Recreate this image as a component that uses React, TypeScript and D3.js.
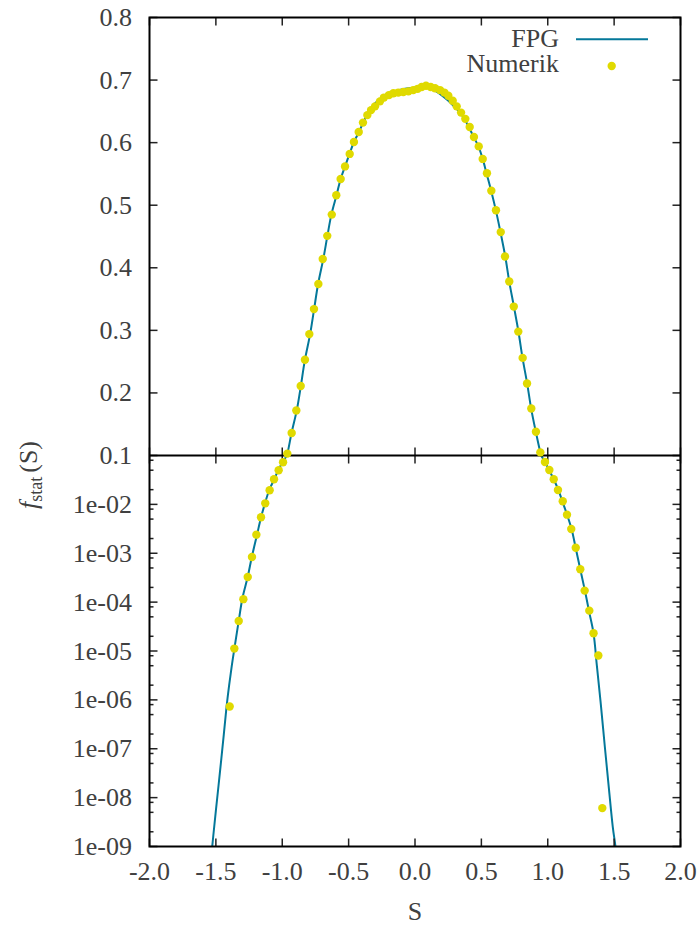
import React from "react";
import * as d3 from "d3";

// ---- Data ----
const xTicks = [-2.0, -1.5, -1.0, -0.5, 0.0, 0.5, 1.0, 1.5, 2.0];
const xTickLabels = ["-2.0", "-1.5", "-1.0", "-0.5", "0.0", "0.5", "1.0", "1.5", "2.0"];
const topTicks = [0.1, 0.2, 0.3, 0.4, 0.5, 0.6, 0.7, 0.8];
const topTickLabels = ["0.1", "0.2", "0.3", "0.4", "0.5", "0.6", "0.7", "0.8"];
const logTicks = [1e-2, 1e-3, 1e-4, 1e-5, 1e-6, 1e-7, 1e-8, 1e-9];
const logTickLabels = ["1e-02", "1e-03", "1e-04", "1e-05", "1e-06", "1e-07", "1e-08", "1e-09"];
const logMinorFactors = [2, 5, 8];

// FPG curve (S, f)
const fpgS = [
  -1.54, -1.52, -1.5, -1.47, -1.44, -1.42, -1.4, -1.38, -1.36, -1.33, -1.3, -1.26, -1.23, -1.19,
  -1.16, -1.13, -1.1, -1.06, -1.03, -1.0, -0.96, -0.93, -0.89, -0.86, -0.83, -0.79, -0.76, -0.73,
  -0.69, -0.66, -0.63, -0.59, -0.56, -0.52, -0.49, -0.46, -0.42, -0.39, -0.36, -0.33, -0.3, -0.25,
  -0.2, -0.15, -0.1, -0.05, 0.0, 0.05, 0.08, 0.12, 0.16, 0.2, 0.24, 0.28, 0.31, 0.35, 0.38, 0.41,
  0.44, 0.48, 0.51, 0.54, 0.575, 0.61, 0.645, 0.68, 0.71, 0.745, 0.78, 0.81, 0.845, 0.875, 0.91,
  0.945, 0.98, 1.01, 1.045, 1.08, 1.11, 1.145, 1.18, 1.21, 1.245, 1.28, 1.31, 1.345, 1.37, 1.4,
  1.43, 1.46, 1.49, 1.51, 1.53,
];
const fpgF = [
  4.5e-10, 1.6e-9, 5.4e-9, 3.2e-8, 2.0e-7, 7.0e-7, 2.0e-6, 5.0e-6, 1.15e-5, 3.8e-5, 1.2e-4, 3.3e-4,
  8.2e-4, 2.4e-3, 5.4e-3, 1.05e-2, 1.9e-2, 3.3e-2, 5.0e-2, 7.1e-2, 0.104, 0.136, 0.173, 0.211,
  0.252, 0.294, 0.334, 0.374, 0.415, 0.451, 0.485, 0.517, 0.542, 0.566, 0.584, 0.601, 0.618, 0.632,
  0.645, 0.655, 0.663, 0.672, 0.678, 0.682, 0.685, 0.687, 0.688, 0.69, 0.69, 0.687, 0.682, 0.676,
  0.669, 0.661, 0.655, 0.645, 0.635, 0.623, 0.61, 0.593, 0.574, 0.55, 0.522, 0.491, 0.456, 0.418,
  0.378, 0.338, 0.297, 0.256, 0.215, 0.175, 0.138, 0.104, 0.073, 0.0505, 0.0326, 0.0197, 0.0116,
  0.0062, 0.0031, 1.3e-3, 4.7e-4, 1.72e-4, 6.7e-5, 2.3e-5, 5.0e-6, 8.0e-7, 1.1e-7, 1.6e-8, 2.5e-9,
  1.0e-9, 3.2e-10,
];

// Numerical points (S, f)
const numS = [
  -1.396, -1.361, -1.328, -1.293, -1.26, -1.228, -1.195, -1.16, -1.128, -1.095, -1.062, -1.027,
  -0.994, -0.962, -0.929, -0.894, -0.861, -0.829, -0.796, -0.761, -0.728, -0.695, -0.661, -0.627,
  -0.593, -0.56, -0.527, -0.492, -0.46, -0.424, -0.392, -0.359, -0.331, -0.301, -0.264, -0.234,
  -0.196, -0.163, -0.126, -0.088, -0.05, -0.013, 0.02, 0.05, 0.083, 0.118, 0.151, 0.188, 0.221,
  0.251, 0.284, 0.314, 0.347, 0.379, 0.412, 0.444, 0.48, 0.51, 0.542, 0.575, 0.61, 0.646, 0.678,
  0.71, 0.744, 0.778, 0.811, 0.844, 0.876, 0.911, 0.944, 0.979, 1.012, 1.045, 1.077, 1.113, 1.145,
  1.177, 1.211, 1.245, 1.278, 1.313, 1.345, 1.381, 1.411,
];
const numF = [
  7.3e-7, 1.12e-5, 4.12e-5, 1.15e-4, 3.27e-4, 8.4e-4, 2.4e-3, 5.45e-3, 1.05e-2, 1.94e-2, 3.26e-2,
  4.98e-2, 7.26e-2, 0.103, 0.136, 0.172, 0.211, 0.253, 0.294, 0.334, 0.374, 0.414, 0.451, 0.485,
  0.516, 0.542, 0.562, 0.582, 0.601, 0.617, 0.632, 0.644, 0.652, 0.658, 0.666, 0.672, 0.676, 0.679,
  0.68, 0.681, 0.682, 0.684, 0.686, 0.689, 0.691, 0.689, 0.687, 0.684, 0.68, 0.675, 0.667, 0.658,
  0.648, 0.638, 0.625, 0.609, 0.594, 0.574, 0.551, 0.523, 0.492, 0.457, 0.418, 0.378, 0.338, 0.298,
  0.256, 0.215, 0.175, 0.138, 0.105, 0.0736, 0.0505, 0.0326, 0.0197, 0.01157, 0.00616, 0.00314,
  0.0013, 4.71e-4, 1.72e-4, 6.7e-5, 2.31e-5, 8.1e-6, 6.1e-9,
];

const W = 700;
const H = 927;
const L = 149.5;
const R = 680.5;
const T = 17.5;
const M = 455.5;
const B = 846.5;
const FONT = "'Liberation Serif', serif";
const FS = 26;
const TXT = "#404040";
const LINE = "#04789a";
const DOT = "#e0da00";

export default function App() {
  const x = d3.scaleLinear().domain([-2, 2]).range([L, R]);
  const yTop = d3.scaleLinear().domain([0.1, 0.8]).range([M, T]);
  const yLog = d3.scaleLog().domain([1e-9, 0.1]).range([B, M]);

  const pts = fpgS.map((s, i) => [s, fpgF[i]] as [number, number]);
  const lineTop = d3
    .line<[number, number]>()
    .x((d) => x(d[0]))
    .y((d) => yTop(d[1]))
    .curve(d3.curveCatmullRom.alpha(0.5));
  const lineLog = d3
    .line<[number, number]>()
    .x((d) => x(d[0]))
    .y((d) => yLog(d[1]))
    .curve(d3.curveCatmullRom.alpha(0.5));

  const minorLog: number[] = [];
  for (let e = -9; e <= -2; e++) {
    for (const f of logMinorFactors) {
      const v = f * Math.pow(10, e);
      if (v < 0.1) minorLog.push(v);
    }
  }

  const tickStroke = "#222";
  const MAJ = 8;
  const MIN = 4;

  return (
    <svg
      width={W}
      height={H}
      style={{ position: "absolute", left: 0, top: 0, background: "#fff" }}
      fontFamily={FONT}
    >
      <defs>
        <clipPath id="clipTop">
          <rect x={L} y={T} width={R - L} height={M - T} />
        </clipPath>
        <clipPath id="clipLog">
          <rect x={L} y={M} width={R - L} height={B - M} />
        </clipPath>
      </defs>
      <rect x={0} y={0} width={W} height={H} fill="#fff" />

      {/* curves */}
      <path d={lineTop(pts) || ""} fill="none" stroke={LINE} strokeWidth={2} clipPath="url(#clipTop)" />
      <path d={lineLog(pts) || ""} fill="none" stroke={LINE} strokeWidth={2} clipPath="url(#clipLog)" />

      {/* x ticks */}
      {xTicks.map((t, i) => (
        <g key={"xt" + i} stroke={tickStroke} strokeWidth={1.5}>
          <line x1={x(t)} x2={x(t)} y1={T} y2={T + MAJ} />
          <line x1={x(t)} x2={x(t)} y1={M - MAJ} y2={M + MAJ} />
          <line x1={x(t)} x2={x(t)} y1={B} y2={B - MAJ} />
        </g>
      ))}
      {/* top y ticks */}
      {topTicks.map((t, i) => (
        <g key={"yt" + i} stroke={tickStroke} strokeWidth={1.5}>
          <line x1={L} x2={L + MAJ} y1={yTop(t)} y2={yTop(t)} />
          <line x1={R} x2={R - MAJ} y1={yTop(t)} y2={yTop(t)} />
        </g>
      ))}
      {/* log y ticks */}
      {logTicks.map((t, i) => (
        <g key={"yl" + i} stroke={tickStroke} strokeWidth={1.5}>
          <line x1={L} x2={L + MAJ} y1={yLog(t)} y2={yLog(t)} />
          <line x1={R} x2={R - MAJ} y1={yLog(t)} y2={yLog(t)} />
        </g>
      ))}
      {minorLog.map((t, i) => (
        <g key={"ym" + i} stroke={tickStroke} strokeWidth={1.5}>
          <line x1={L} x2={L + MIN} y1={yLog(t)} y2={yLog(t)} />
          <line x1={R} x2={R - MIN} y1={yLog(t)} y2={yLog(t)} />
        </g>
      ))}

      {/* borders */}
      <rect x={L} y={T} width={R - L} height={B - T} fill="none" stroke="#000" strokeWidth={2} />
      <line x1={L} x2={R} y1={M} y2={M} stroke="#000" strokeWidth={2} />

      {/* points */}
      {numS.map((s, i) => {
        const f = numF[i];
        const cy = f >= 0.1 ? yTop(f) : yLog(f);
        return <circle key={"p" + i} cx={x(s)} cy={cy} r={4.2} fill={DOT} />;
      })}

      {/* tick labels */}
      {xTicks.map((t, i) => (
        <text key={"xl" + i} x={x(t)} y={880} textAnchor="middle" fontSize={FS} fill={TXT}>
          {xTickLabels[i]}
        </text>
      ))}
      {topTicks.map((t, i) => (
        <text key={"tl" + i} x={132} y={yTop(t) + 8.5} textAnchor="end" fontSize={FS} fill={TXT}>
          {topTickLabels[i]}
        </text>
      ))}
      {logTicks.map((t, i) => (
        <text key={"ll" + i} x={132} y={yLog(t) + 8.5} textAnchor="end" fontSize={FS} fill={TXT}>
          {logTickLabels[i]}
        </text>
      ))}

      {/* axis labels */}
      <text x={415} y={920} textAnchor="middle" fontSize={FS} fill={TXT}>
        S
      </text>
      <text transform="translate(37,475) rotate(-90)" textAnchor="middle" fontSize={FS} fill={TXT}>
        <tspan fontStyle="italic">f</tspan>
        <tspan fontSize={18} dy={5}>stat</tspan>
        <tspan dy={-5} dx={4}>(S)</tspan>
      </text>

      {/* legend */}
      <text x={559} y={47} textAnchor="end" fontSize={FS} fill={TXT}>
        FPG
      </text>
      <line x1={576} x2={648} y1={39.3} y2={39.3} stroke={LINE} strokeWidth={2} />
      <text x={559} y={72} textAnchor="end" fontSize={FS} fill={TXT}>
        Numerik
      </text>
      <circle cx={611.7} cy={66} r={4.2} fill={DOT} />
    </svg>
  );
}
